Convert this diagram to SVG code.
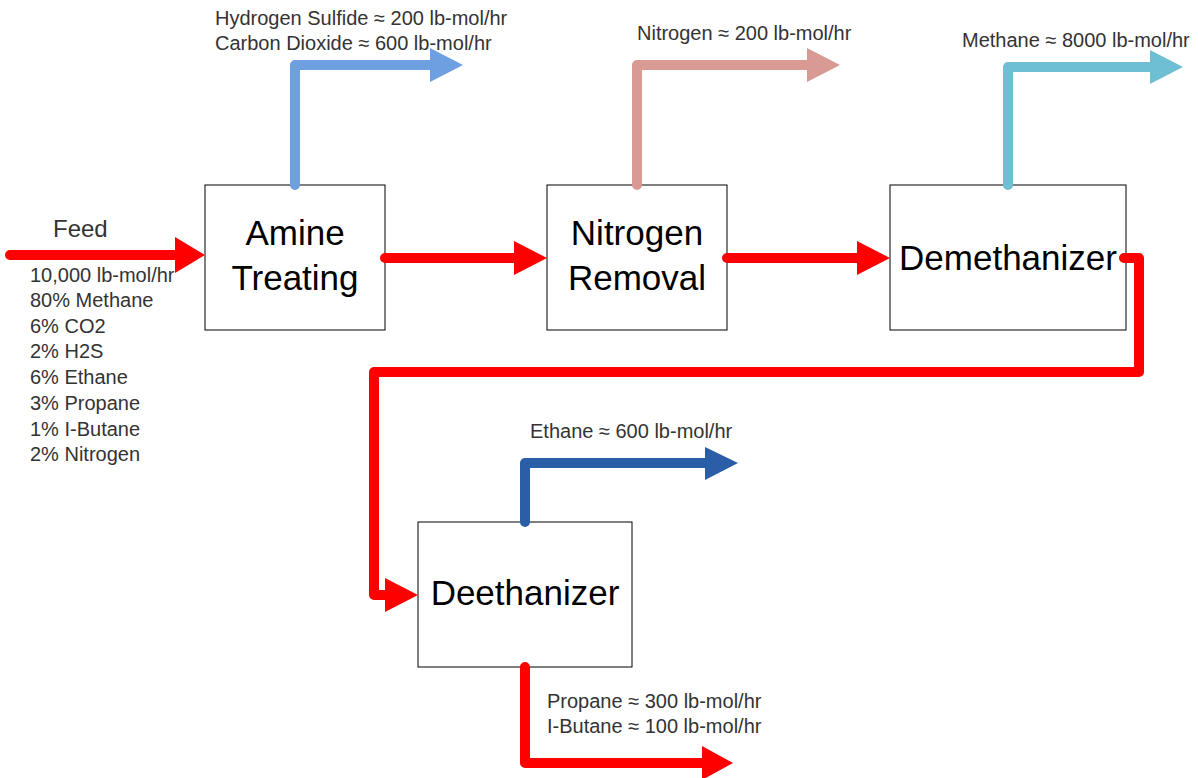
<svg xmlns="http://www.w3.org/2000/svg" width="1198" height="778" viewBox="0 0 1198 778">
<style>
.box{fill:#fff;stroke:#000;stroke-width:1}
.lbl{font-family:"Liberation Sans",Arial,sans-serif;font-size:35px;fill:#000;text-anchor:middle}
.t{font-family:"Liberation Sans",Arial,sans-serif;font-size:20px;fill:#333}
.flow{fill:none;stroke-width:10;stroke-linecap:round;stroke-linejoin:round}
</style>
<rect width="1198" height="778" fill="#fff"/>
<g id="amine"><rect class="box" x="205" y="185" width="180" height="145"/><text class="lbl" x="295" y="245">Amine</text><text class="lbl" x="295" y="290">Treating</text></g>
<g id="nitrogen"><rect class="box" x="547" y="185" width="180" height="145"/><text class="lbl" x="637" y="245">Nitrogen</text><text class="lbl" x="637" y="290">Removal</text></g>
<g id="demethanizer"><rect class="box" x="890" y="185" width="236" height="145"/><text class="lbl" x="1008" y="270">Demethanizer</text></g>
<g id="deethanizer"><rect class="box" x="418" y="522" width="214" height="145"/><text class="lbl" x="525" y="605">Deethanizer</text></g>
<g id="connectors">
<path class="flow" stroke="#FF0000" d="M10 255 H178"/><polygon fill="#FF0000" points="175,237 205,255 175,273"/>
<path class="flow" stroke="#FF0000" d="M385 258 H517"/><polygon fill="#FF0000" points="514,241 547,258 514,275"/>
<path class="flow" stroke="#FF0000" d="M727 258 H860"/><polygon fill="#FF0000" points="857,241 890,258 857,275"/>
<path class="flow" stroke="#FF0000" d="M1124 258 H1139 V372 H374 V595 H388"/><polygon fill="#FF0000" points="385,578 418,595 385,612"/>
<path class="flow" stroke="#FF0000" d="M525 667 V763 H705"/><polygon fill="#FF0000" points="702,746 733,763 702,780"/>
<path class="flow" stroke="#2A5FA8" stroke-width="9" d="M525 522 V463 H708"/><polygon fill="#2A5FA8" points="705,447 738,463 705,480"/>
<path class="flow" stroke="#6E9FE0" stroke-width="9" d="M295 185 V65 H433"/><polygon fill="#6E9FE0" points="430,48 463,65 430,82"/>
<path class="flow" stroke="#D99A94" stroke-width="9" d="M637 185 V65 H810"/><polygon fill="#D99A94" points="807,48 840,65 807,82"/>
<path class="flow" stroke="#6FBFD4" stroke-width="9" d="M1008 185 V67 H1153"/><polygon fill="#6FBFD4" points="1150,50 1183,67 1150,84"/>
</g>
<g id="labels">
<text class="t" x="53" y="237" style="font-size:24px">Feed</text>
<text class="t" x="30" y="282">10,000 lb-mol/hr</text>
<text class="t" x="30" y="307">80% Methane</text>
<text class="t" x="30" y="333">6% CO2</text>
<text class="t" x="30" y="358">2% H2S</text>
<text class="t" x="30" y="384">6% Ethane</text>
<text class="t" x="30" y="410">3% Propane</text>
<text class="t" x="30" y="436">1% I-Butane</text>
<text class="t" x="30" y="461">2% Nitrogen</text>
<text class="t" x="215" y="25">Hydrogen Sulfide ≈ 200 lb-mol/hr</text>
<text class="t" x="215" y="50">Carbon Dioxide ≈ 600 lb-mol/hr</text>
<text class="t" x="637" y="40">Nitrogen ≈ 200 lb-mol/hr</text>
<text class="t" x="962" y="47">Methane ≈ 8000 lb-mol/hr</text>
<text class="t" x="530" y="438">Ethane ≈ 600 lb-mol/hr</text>
<text class="t" x="547" y="708">Propane ≈ 300 lb-mol/hr</text>
<text class="t" x="547" y="733">I-Butane ≈ 100 lb-mol/hr</text>
</g>
</svg>
